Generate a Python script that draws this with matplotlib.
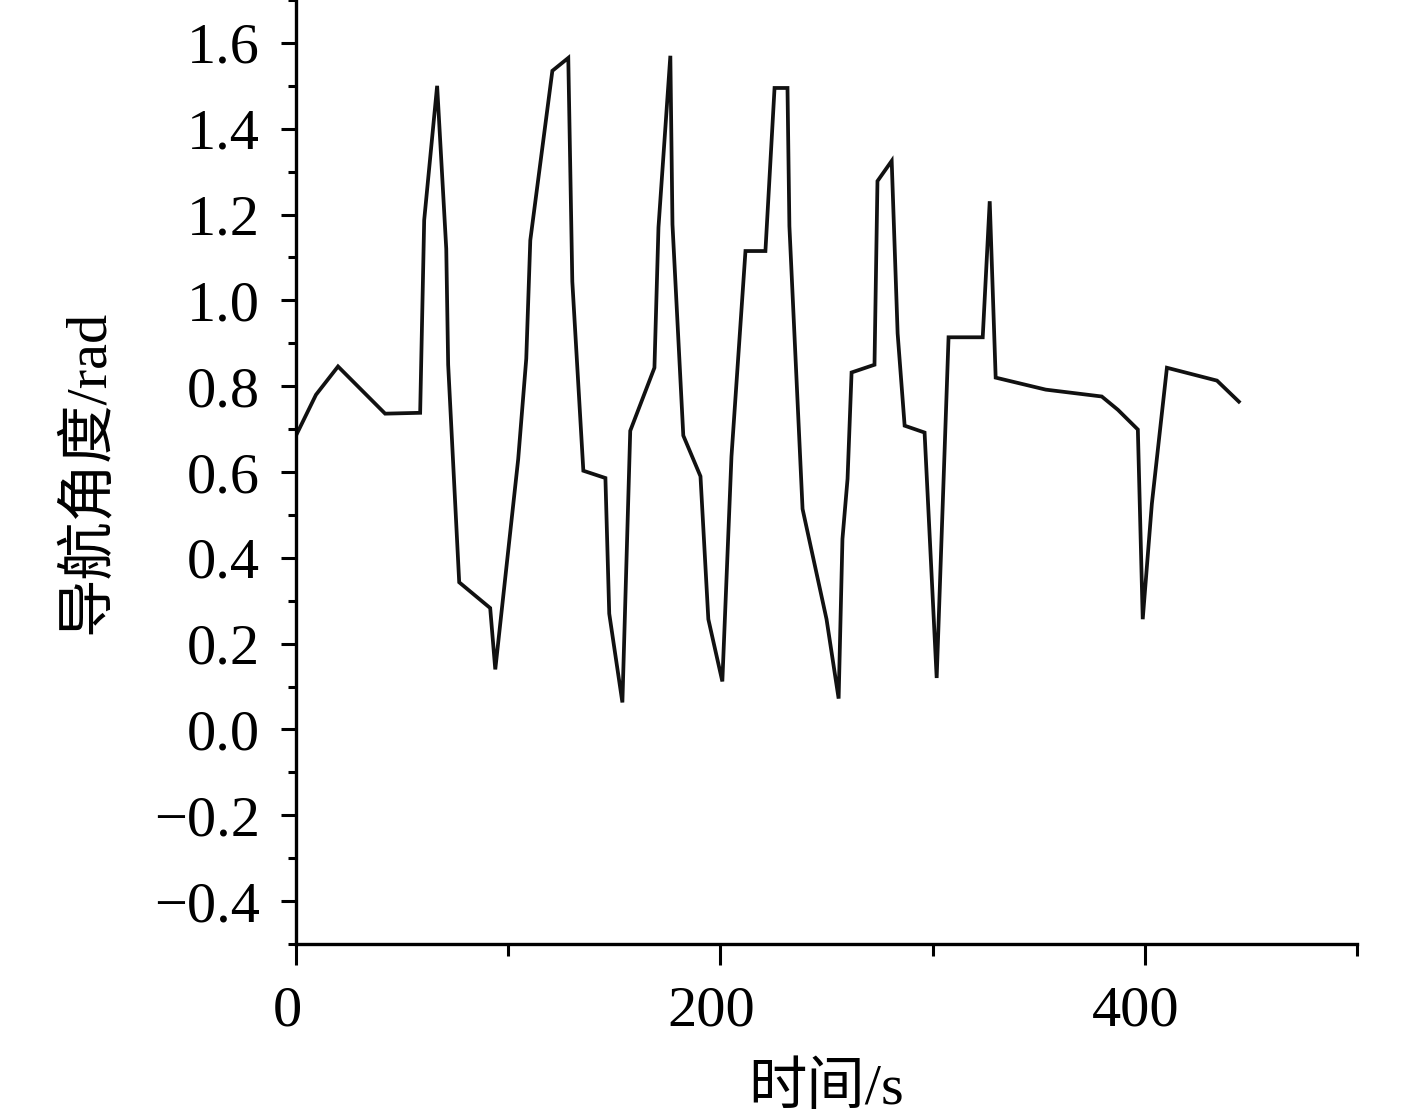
import numpy as np
import matplotlib
matplotlib.use('Agg')
import matplotlib.pyplot as plt
import matplotlib.transforms as mtrans
from matplotlib.ticker import MultipleLocator, FuncFormatter

plt.rcParams['font.family'] = ['Liberation Serif', 'Noto Sans CJK SC']

# 数据 (时间 s, 导航角度 rad)
t = [0, 9.4, 19.8, 42, 58.5, 60.4, 66.5, 70.8, 71.7, 76.9, 91.5, 93.9, 104.7, 108.5,
     110.4, 120.8, 128.3, 130.2, 135.4, 145.8, 147.6, 153.8, 157.5, 168.9, 170.8,
     176.4, 177.4, 182.5, 190.6, 194.3, 200.9, 205.2, 211.8, 221.2, 225.5, 231.6,
     232.5, 238.7, 250, 255.7, 257.5, 259.9, 261.8, 272.6, 274, 280.7, 283.5, 286.8,
     296.2, 301.9, 307.5, 323.6, 326.9, 329.7, 353.3, 379.7, 387.3, 396.7, 399,
     403.3, 410.4, 434, 444.3]
angle = [0.685, 0.78, 0.846, 0.736, 0.738, 1.187, 1.50, 1.12, 0.85, 0.343, 0.283,
         0.14, 0.63, 0.864, 1.14, 1.535, 1.565, 1.044, 0.603, 0.586, 0.27, 0.063,
         0.696, 0.843, 1.17, 1.57, 1.177, 0.685, 0.59, 0.257, 0.112, 0.636, 1.115,
         1.115, 1.495, 1.495, 1.173, 0.514, 0.257, 0.072, 0.444, 0.584, 0.832, 0.85,
         1.278, 1.325, 0.923, 0.708, 0.692, 0.12, 0.914, 0.914, 1.231, 0.82, 0.792,
         0.776, 0.745, 0.699, 0.257, 0.526, 0.843, 0.813, 0.764]

fig = plt.figure(figsize=(14.17, 11.18), dpi=100)
ax = fig.add_axes([0.2089, 0.1556, 0.7488, 0.8444])
ax.plot(t, angle, color='#111111', lw=2.7, solid_joinstyle='miter')

ax.set_xlim(0, 500)
ax.set_ylim(-0.5, 1.7)
ax.xaxis.set_major_locator(MultipleLocator(200))
ax.xaxis.set_minor_locator(MultipleLocator(100))
ax.yaxis.set_major_locator(MultipleLocator(0.2))
ax.yaxis.set_minor_locator(MultipleLocator(0.1))
ax.yaxis.set_major_formatter(FuncFormatter(lambda v, p: ('%.1f' % v).replace('-', '\u2212')))

for s in ['top', 'right']:
    ax.spines[s].set_visible(False)
for s in ['left', 'bottom']:
    ax.spines[s].set_linewidth(2.4)

ax.tick_params(axis='y', which='major', direction='out', length=11, width=2.2, labelsize=42, pad=15)
ax.tick_params(axis='y', which='minor', direction='out', length=6, width=2.2)
ax.tick_params(axis='x', which='major', direction='out', length=15, width=2.2, labelsize=42, pad=15)
ax.tick_params(axis='x', which='minor', direction='out', length=8.5, width=2.2)

# x 刻度标签略微左移
shift = mtrans.ScaledTranslation(-9 / 100, 0, fig.dpi_scale_trans)
for lab in ax.get_xticklabels():
    lab.set_transform(lab.get_transform() + shift)

ax.set_xlabel('时间/s', fontsize=42, labelpad=18)
ax.set_ylabel('导航角度/rad', fontsize=42, labelpad=28)

plt.savefig('out.png', dpi=100)
